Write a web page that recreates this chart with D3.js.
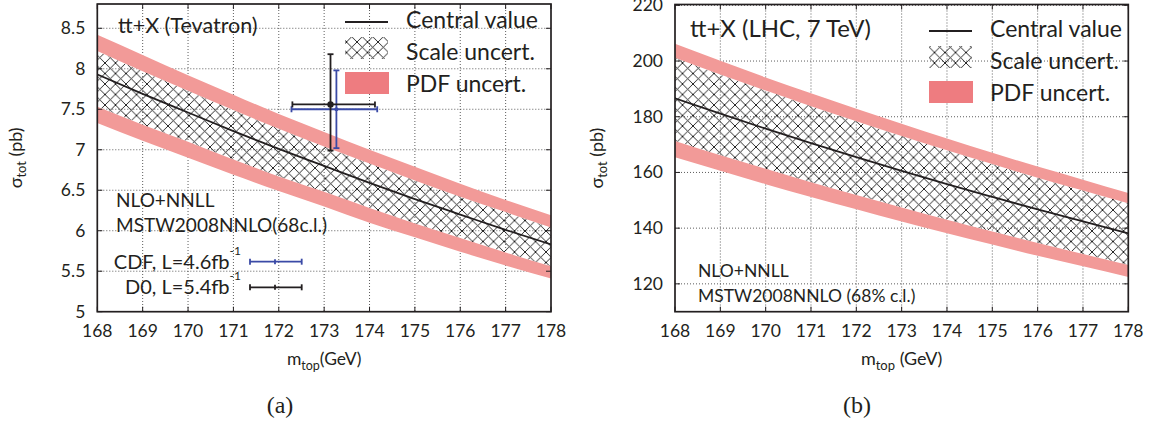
<!DOCTYPE html>
<html>
<head>
<meta charset="utf-8">
<script src="https://cdn.jsdelivr.net/npm/d3@7"></script>
<style>
  body { margin: 0; background: #fff; }
  svg text { font-family: Lato, "Open Sans", sans-serif; fill: #231f20; }
</style>
</head>
<body>
<div id="chartId"></div>
<script>
// top mass grid (GeV)
const masses = [168, 169, 170, 171, 172, 173, 174, 175, 176, 177, 178];

// Tevatron (pb)
const tevCentral  = [7.93, 7.69, 7.46, 7.23, 7.01, 6.80, 6.59, 6.39, 6.20, 6.01, 5.83];
const tevScaleUp  = [8.22, 7.97, 7.73, 7.49, 7.26, 7.04, 6.83, 6.62, 6.42, 6.23, 6.04];
const tevScaleLow = [7.53, 7.31, 7.10, 6.88, 6.67, 6.48, 6.28, 6.09, 5.91, 5.73, 5.56];
const tevPdfUp    = [8.42, 8.17, 7.92, 7.68, 7.44, 7.22, 7.00, 6.79, 6.58, 6.38, 6.19];
const tevPdfLow   = [7.33, 7.11, 6.90, 6.69, 6.49, 6.30, 6.10, 5.92, 5.74, 5.57, 5.41];

// LHC 7 TeV (pb)
const lhcCentral  = [186.6, 181.1, 175.7, 170.5, 165.5, 160.6, 155.8, 151.2, 146.7, 142.4, 138.1];
const lhcScaleUp  = [201.2, 195.2, 189.4, 183.8, 178.4, 173.1, 168.0, 163.0, 158.1, 153.5, 148.9];
const lhcScaleLow = [171.3, 166.2, 161.3, 156.5, 151.9, 147.4, 143.0, 138.8, 134.7, 130.7, 126.8];
const lhcPdfUp    = [206.2, 200.1, 194.1, 188.4, 182.9, 177.5, 172.2, 167.1, 162.1, 157.4, 152.6];
const lhcPdfLow   = [165.5, 160.6, 155.8, 151.2, 146.8, 142.4, 138.2, 134.1, 130.1, 126.3, 122.5];

// measurements (Tevatron)
const expNames    = ["CDF", "D0"];
const expLabels   = ["CDF, L=4.6fb", "D0, L=5.4fb"];
const expColors   = ["#3a4aa6", "#231f20"];
const expMass     = [173.27, 173.14];
const expMassLo   = [172.28, 172.30];
const expMassHi   = [174.17, 174.12];
const expSigma    = [7.50, 7.56];
const expSigmaLo  = [7.02, 6.99];
const expSigmaHi  = [7.98, 8.18];

const xTicks = [168, 169, 170, 171, 172, 173, 174, 175, 176, 177, 178];
const tevYTicks = [5, 5.5, 6, 6.5, 7, 7.5, 8, 8.5];
const lhcYTicks = [120, 140, 160, 180, 200, 220];

const bandColor = "#f29a98";
const legendPink = "#ee7c80";

const svg = d3.select("div#chartId")
  .append("svg")
  .attr("width", 1156)
  .attr("height", 426);

const defs = svg.append("defs");
const hatch = defs.append("pattern")
  .attr("id", "hatch")
  .attr("patternUnits", "userSpaceOnUse")
  .attr("width", 10.5)
  .attr("height", 10.5);
hatch.append("path")
  .attr("d", "M0,0 L10.5,10.5 M10.5,0 L0,10.5")
  .attr("stroke", "#111")
  .attr("stroke-width", 0.9)
  .attr("fill", "none");

function drawPanel(p) {
  const x = d3.scaleLinear().domain([168, 178]).range([p.left, p.right]);
  const y = d3.scaleLinear().domain(p.yDomain).range([p.bottom, p.top]);
  const g = svg.append("g");

  defs.append("clipPath").attr("id", p.id + "-clip")
    .append("rect")
    .attr("x", p.left).attr("y", p.top)
    .attr("width", p.right - p.left).attr("height", p.bottom - p.top);

  // dotted grid
  g.append("g").selectAll("line").data(xTicks.slice(1, -1)).join("line")
    .attr("x1", d => x(d)).attr("x2", d => x(d))
    .attr("y1", p.top).attr("y2", p.bottom)
    .attr("stroke", "#333").attr("stroke-width", 0.8)
    .attr("stroke-dasharray", "1,2");
  g.append("g").selectAll("line").data(p.yTicks.filter(t => t > p.yDomain[0] && t < p.yDomain[1])).join("line")
    .attr("x1", p.left).attr("x2", p.right)
    .attr("y1", d => y(d)).attr("y2", d => y(d))
    .attr("stroke", "#333").attr("stroke-width", 0.8)
    .attr("stroke-dasharray", "1,2");

  const rows = masses.map((m, i) => ({
    m: m, c: p.central[i], su: p.scaleUp[i], sl: p.scaleLow[i], pu: p.pdfUp[i], pl: p.pdfLow[i]
  }));
  const area = (lo, hi) => d3.area().curve(d3.curveMonotoneX)
    .x(d => x(d.m)).y0(d => y(d[lo])).y1(d => y(d[hi]));

  const bands = g.append("g").attr("clip-path", "url(#" + p.id + "-clip)");
  bands.append("path").datum(rows).attr("d", area("sl", "su"))
    .attr("fill", "url(#hatch)");
  bands.append("path").datum(rows).attr("d", area("su", "pu"))
    .attr("fill", bandColor);
  bands.append("path").datum(rows).attr("d", area("pl", "sl"))
    .attr("fill", bandColor);
  bands.append("path").datum(rows)
    .attr("d", d3.line().curve(d3.curveMonotoneX).x(d => x(d.m)).y(d => y(d.c)))
    .attr("fill", "none").attr("stroke", "#231f20").attr("stroke-width", 1.8);

  // frame and inward ticks
  g.append("rect")
    .attr("x", p.left).attr("y", p.top)
    .attr("width", p.right - p.left).attr("height", p.bottom - p.top)
    .attr("fill", "none").attr("stroke", "#231f20").attr("stroke-width", 1.7);
  const tk = g.append("g").attr("stroke", "#231f20").attr("stroke-width", 1);
  xTicks.forEach(t => {
    tk.append("line").attr("x1", x(t)).attr("x2", x(t)).attr("y1", p.bottom).attr("y2", p.bottom - 5);
    tk.append("line").attr("x1", x(t)).attr("x2", x(t)).attr("y1", p.top).attr("y2", p.top + 5);
  });
  p.yTicks.forEach(t => {
    tk.append("line").attr("x1", p.left).attr("x2", p.left + 5).attr("y1", y(t)).attr("y2", y(t));
    tk.append("line").attr("x1", p.right).attr("x2", p.right - 5).attr("y1", y(t)).attr("y2", y(t));
  });

  // tick labels
  g.append("g").selectAll("text").data(xTicks).join("text")
    .attr("x", d => x(d)).attr("y", p.bottom + 25.5)
    .attr("text-anchor", "middle").attr("font-size", 17.5)
    .text(d => d);
  g.append("g").selectAll("text").data(p.yTicks).join("text")
    .attr("x", p.left - 12).attr("y", d => y(d) + 6)
    .attr("text-anchor", "end").attr("font-size", 17.5)
    .text(d => d);

  // axis titles
  const yt = g.append("text")
    .attr("transform", "translate(" + p.yTitleX + "," + ((p.top + p.bottom) / 2) + ") rotate(-90)")
    .attr("text-anchor", "middle").attr("font-size", 18);
  yt.append("tspan").text("σ");
  yt.append("tspan").attr("dy", 4).attr("font-size", 13).text("tot");
  yt.append("tspan").attr("dy", -4).text(" (pb)");

  const xt = g.append("text")
    .attr("x", (p.left + p.right) / 2).attr("y", 365)
    .attr("text-anchor", "middle").attr("font-size", p.xTitleSize);
  xt.append("tspan").text("m");
  xt.append("tspan").attr("dy", 5).attr("font-size", p.xTitleSize - 5).text("top");
  xt.append("tspan").attr("dy", -5).text(p.xTitleTail);

  // title
  g.append("text").attr("x", p.titleX).attr("y", p.titleY)
    .attr("font-size", p.titleSize).text(p.title);

  // legend
  const L = p.legend;
  g.append("line").attr("x1", L.x).attr("x2", L.x + 43)
    .attr("y1", L.y + 10).attr("y2", L.y + 10)
    .attr("stroke", "#231f20").attr("stroke-width", 1.8);
  g.append("rect").attr("x", L.x).attr("y", L.y + 25).attr("width", 43).attr("height", 22)
    .attr("fill", "url(#hatch)");
  g.append("rect").attr("x", L.x).attr("y", L.y + 60).attr("width", 44).attr("height", 22)
    .attr("fill", legendPink);
  ["Central value", "Scale uncert.", "PDF uncert."].forEach((s, i) => {
    g.append("text").attr("x", L.x + 61).attr("y", L.y + 16 + i * 32)
      .attr("font-size", 23).text(s);
  });

  // notes
  p.notes.forEach((s, i) => {
    g.append("text").attr("x", p.noteX).attr("y", p.noteY + i * 25)
      .attr("font-size", p.noteSize).text(s);
  });

  // sub-caption
  svg.append("text").attr("x", p.capX).attr("y", 413)
    .attr("text-anchor", "middle")
    .style("font-family", "'Liberation Serif', serif")
    .attr("font-size", 24).text(p.caption);

  return { x: x, y: y, g: g };
}

const left = drawPanel({
  id: "tev", left: 97.3, right: 551, top: 4, bottom: 311.7,
  yDomain: [5, 8.8], yTicks: tevYTicks,
  central: tevCentral, scaleUp: tevScaleUp, scaleLow: tevScaleLow, pdfUp: tevPdfUp, pdfLow: tevPdfLow,
  yTitleX: 22, xTitleTail: "(GeV)", xTitleSize: 17.5,
  title: "tt+X (Tevatron)", titleX: 118, titleY: 33, titleSize: 21.5,
  legend: { x: 345, y: 12 },
  notes: ["NLO+NNLL", "MSTW2008NNLO(68c.l.)"], noteX: 116, noteY: 206.5, noteSize: 19,
  caption: "(a)", capX: 280
});

drawPanel({
  id: "lhc", left: 675, right: 1128.3, top: 4.5, bottom: 311.7,
  yDomain: [110, 220.3], yTicks: lhcYTicks,
  central: lhcCentral, scaleUp: lhcScaleUp, scaleLow: lhcScaleLow, pdfUp: lhcPdfUp, pdfLow: lhcPdfLow,
  yTitleX: 603, xTitleTail: " (GeV)", xTitleSize: 18,
  title: "tt+X (LHC, 7 TeV)", titleX: 690, titleY: 36.5, titleSize: 24,
  legend: { x: 929, y: 21 },
  notes: ["NLO+NNLL", "MSTW2008NNLO (68% c.l.)"], noteX: 698, noteY: 276.7, noteSize: 17.5,
  caption: "(b)", capX: 857
});

// measurement error bars (left panel)
const xs = left.x, ys = left.y;
const eb = left.g.append("g");
expNames.forEach((n, i) => {
  const c = expColors[i];
  const gx = eb.append("g").attr("stroke", c).attr("stroke-width", 1.8);
  const cx = xs(expMass[i]), cy = ys(expSigma[i]);
  gx.append("line").attr("x1", cx).attr("x2", cx).attr("y1", ys(expSigmaLo[i])).attr("y2", ys(expSigmaHi[i]));
  gx.append("line").attr("x1", xs(expMassLo[i])).attr("x2", xs(expMassHi[i])).attr("y1", cy).attr("y2", cy);
  [ys(expSigmaLo[i]), ys(expSigmaHi[i])].forEach(yy =>
    gx.append("line").attr("x1", cx - 3).attr("x2", cx + 3).attr("y1", yy).attr("y2", yy));
  [xs(expMassLo[i]), xs(expMassHi[i])].forEach(xx =>
    gx.append("line").attr("x1", xx).attr("x2", xx).attr("y1", cy - 3).attr("y2", cy + 3));
  eb.append("circle").attr("cx", cx).attr("cy", cy).attr("r", n === "D0" ? 3.2 : 2)
    .attr("fill", c);
});

// measurement legend
expLabels.forEach((s, i) => {
  const ly = [261.7, 287.3][i];
  const c = expColors[i];
  const t = left.g.append("text").attr("x", 241).attr("y", ly + 7)
    .attr("text-anchor", "end").attr("font-size", 20);
  t.append("tspan").text(s);
  t.append("tspan").attr("dy", -14).attr("font-size", 12).text("-1");
  const gl = left.g.append("g").attr("stroke", c).attr("stroke-width", 1.8);
  gl.append("line").attr("x1", 250).attr("x2", 301.7).attr("y1", ly).attr("y2", ly);
  [250, 301.7].forEach(xx => gl.append("line").attr("x1", xx).attr("x2", xx).attr("y1", ly - 3).attr("y2", ly + 3));
  gl.append("line").attr("x1", 275).attr("x2", 275).attr("y1", ly - 2.5).attr("y2", ly + 2.5);
});
</script>
</body>
</html>
